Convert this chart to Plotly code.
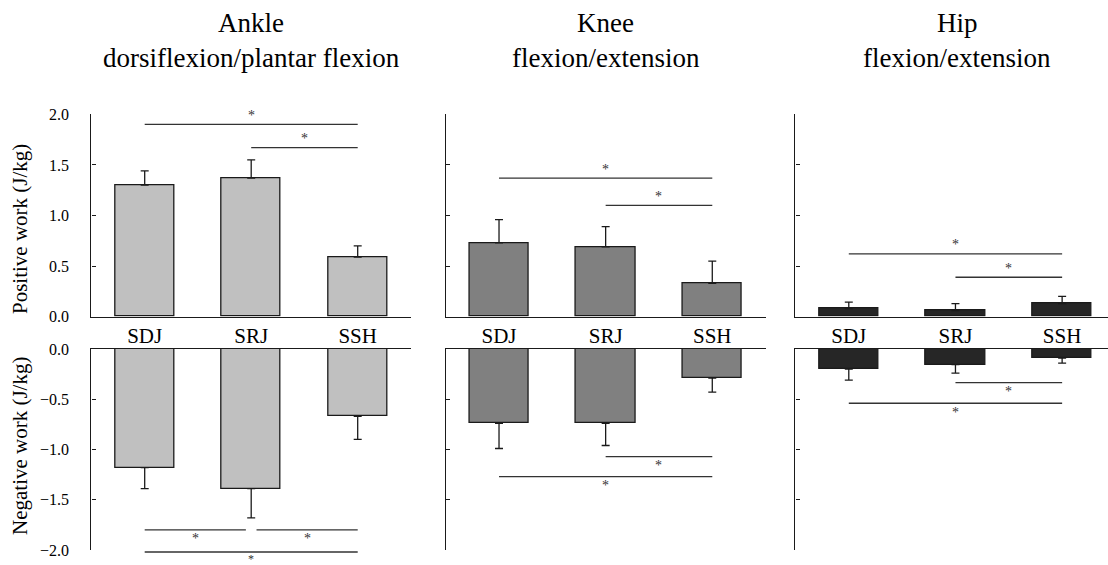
import plotly.graph_objects as go

W, H = 1108, 565
FONT = "Liberation Serif"

joints = ["Ankle", "Knee", "Hip"]
joint_motion = ["dorsiflexion/plantar flexion", "flexion/extension", "flexion/extension"]
conditions = ["SDJ", "SRJ", "SSH"]
bar_colors = ["#c0c0c0", "#808080", "#262626"]

pos_mean = {"Ankle": [1.30, 1.37, 0.59], "Knee": [0.73, 0.69, 0.33], "Hip": [0.08, 0.06, 0.13]}
pos_sd = {"Ankle": [0.14, 0.18, 0.11], "Knee": [0.23, 0.20, 0.22], "Hip": [0.065, 0.07, 0.07]}
neg_mean = {"Ankle": [-1.18, -1.39, -0.67], "Knee": [-0.74, -0.74, -0.29], "Hip": [-0.20, -0.155, -0.09]}
neg_sd = {"Ankle": [0.21, 0.29, 0.23], "Knee": [0.25, 0.22, 0.14], "Hip": [0.11, 0.085, 0.05]}

pos_ticks = [0.0, 0.5, 1.0, 1.5, 2.0]
neg_ticks = [-2.0, -1.5, -1.0, -0.5, 0.0]

# significance brackets: (x_start, x_end, y)
sig_pos = {"Ankle": [(0, 2, 1.90), (1, 2, 1.67)],
           "Knee": [(0, 2, 1.37), (1, 2, 1.10)],
           "Hip": [(0, 2, 0.62), (1, 2, 0.39)]}
sig_neg = {"Ankle": [(0, 0.95, -1.80), (1.05, 2, -1.80), (0, 2, -2.02)],
           "Knee": [(1, 2, -1.07), (0, 2, -1.27)],
           "Hip": [(1, 2, -0.335), (0, 2, -0.54)]}

# layout geometry (pixels)
x_dom_px = [(91.45, 410.95), (445.7, 765.6), (795.45, 1108.0)]
x_ranges = [[-0.5, 2.5], [-0.5, 2.5], [-0.5, 2.43]]
top_dom = [1 - 316.7 / H, 1 - 114.3 / H]
bot_dom = [1 - 550 / H, 1 - 349 / H]
pos_range = [0, 2.0]
neg_range = [-2.0, 0]

fig = go.Figure()
layout = dict(width=W, height=H, margin=dict(l=0, r=0, t=0, b=0, pad=0, autoexpand=False), autosize=False,
              paper_bgcolor="white", plot_bgcolor="white", showlegend=False,
              font=dict(family=FONT, color="black"), bargap=0)
shapes, annotations = [], []


def frac(rng, v):
    return (v - rng[0]) / (rng[1] - rng[0])


for i, j in enumerate(joints):
    nt, nb = i + 1, i + 4
    xd = [x_dom_px[i][0] / W, x_dom_px[i][1] / W]
    fig.add_trace(go.Bar(x=list(range(3)), y=pos_mean[j], width=0.555,
                         marker=dict(color=bar_colors[i], line=dict(color="#1a1a1a", width=1.3)),
                         error_y=dict(type="data", symmetric=False, array=pos_sd[j], arrayminus=[0, 0, 0],
                                      color="#1a1a1a", thickness=1.3, width=4),
                         xaxis=f"x{'' if nt == 1 else nt}", yaxis=f"y{'' if nt == 1 else nt}"))
    fig.add_trace(go.Bar(x=list(range(3)), y=neg_mean[j], width=0.555,
                         marker=dict(color=bar_colors[i], line=dict(color="#1a1a1a", width=1.3)),
                         error_y=dict(type="data", symmetric=False, array=[0, 0, 0], arrayminus=neg_sd[j],
                                      color="#1a1a1a", thickness=1.3, width=4),
                         xaxis=f"x{nb}", yaxis=f"y{nb}"))
    sfx_t = "" if nt == 1 else str(nt)
    sfx_b = str(nb)
    layout[f"xaxis{sfx_t}"] = dict(domain=xd, range=x_ranges[i], anchor=f"y{sfx_t}",
                                   tickmode="array", tickvals=[0, 1, 2], ticktext=conditions,
                                   showline=True, linecolor="#1a1a1a", linewidth=1.3, ticks="",
                                   showgrid=False, zeroline=False, fixedrange=True, automargin=False,
                                   tickfont=dict(family=FONT, size=21, color="black"))
    layout[f"yaxis{sfx_t}"] = dict(domain=top_dom, range=pos_range, anchor=f"x{sfx_t}",
                                   tickmode="array", tickvals=pos_ticks, tickformat=".1f",
                                   showticklabels=(i == 0), ticks="inside", ticklen=4,
                                   tickcolor="#1a1a1a", tickwidth=1.3, automargin=False,
                                   showline=True, linecolor="#1a1a1a", linewidth=1.3,
                                   showgrid=False, zeroline=False, ticklabelstandoff=18,
                                   tickfont=dict(family=FONT, size=16, color="black"))
    layout[f"xaxis{sfx_b}"] = dict(domain=xd, range=x_ranges[i], anchor=f"y{sfx_b}", side="top",
                                   showline=True, linecolor="#1a1a1a", linewidth=1.3, ticks="",
                                   showticklabels=False, showgrid=False, zeroline=False, automargin=False)
    layout[f"yaxis{sfx_b}"] = dict(domain=bot_dom, range=neg_range, anchor=f"x{sfx_b}",
                                   tickmode="array", tickvals=neg_ticks, tickformat=".1f",
                                   showticklabels=(i == 0), ticks="inside", ticklen=4,
                                   tickcolor="#1a1a1a", tickwidth=1.3, automargin=False,
                                   showline=True, linecolor="#1a1a1a", linewidth=1.3,
                                   showgrid=False, zeroline=False, ticklabelstandoff=18,
                                   tickfont=dict(family=FONT, size=16, color="black"))

    for (rowsig, n, rng, shift) in ((sig_pos[j], nt, pos_range, 9), (sig_neg[j], nb, neg_range, -9)):
        xr = f"x{'' if n == 1 else n} domain"
        yr = f"y{'' if n == 1 else n} domain"
        for (x0, x1, yv) in rowsig:
            fx0, fx1 = frac(x_ranges[i], x0), frac(x_ranges[i], x1)
            fy = frac(rng, yv)
            shapes.append(dict(type="line", xref=xr, yref=yr, x0=fx0, x1=fx1, y0=fy, y1=fy,
                               line=dict(color="#333333", width=1.3)))
            if fy < 0:
                # star below a bracket that lies under the axis: keep it near the page edge
                annotations.append(dict(xref=xr, yref="paper", x=(fx0 + fx1) / 2, y=0.0, yshift=-3,
                                        text="*", showarrow=False, xanchor="center", yanchor="bottom",
                                        font=dict(family=FONT, size=12, color="#333333")))
            else:
                annotations.append(dict(xref=xr, yref=yr, x=(fx0 + fx1) / 2, y=fy, yshift=shift,
                                        text="*", showarrow=False, xanchor="center", yanchor="middle",
                                        font=dict(family=FONT, size=14, color="#333333")))

    cx = (x_dom_px[i][0] + x_dom_px[i][1]) / 2 / W
    if i == 2:
        cx = 957 / W
    annotations.append(dict(xref="paper", yref="paper", x=cx, y=1 - 23 / H, text=j, showarrow=False,
                            xanchor="center", yanchor="middle", font=dict(family=FONT, size=27)))
    annotations.append(dict(xref="paper", yref="paper", x=cx, y=1 - 58 / H, text=joint_motion[i],
                            showarrow=False, xanchor="center", yanchor="middle",
                            font=dict(family=FONT, size=27)))

annotations.append(dict(xref="paper", yref="paper", x=20 / W, y=1 - 229 / H, text="Positive work (J/kg)",
                        textangle=-90, showarrow=False, xanchor="center", yanchor="middle",
                        font=dict(family=FONT, size=21)))
annotations.append(dict(xref="paper", yref="paper", x=20 / W, y=1 - 446 / H, text="Negative work (J/kg)",
                        textangle=-90, showarrow=False, xanchor="center", yanchor="middle",
                        font=dict(family=FONT, size=21)))

layout["shapes"] = shapes
layout["annotations"] = annotations
fig.update_layout(**layout)
fig.write_html("out.html")
